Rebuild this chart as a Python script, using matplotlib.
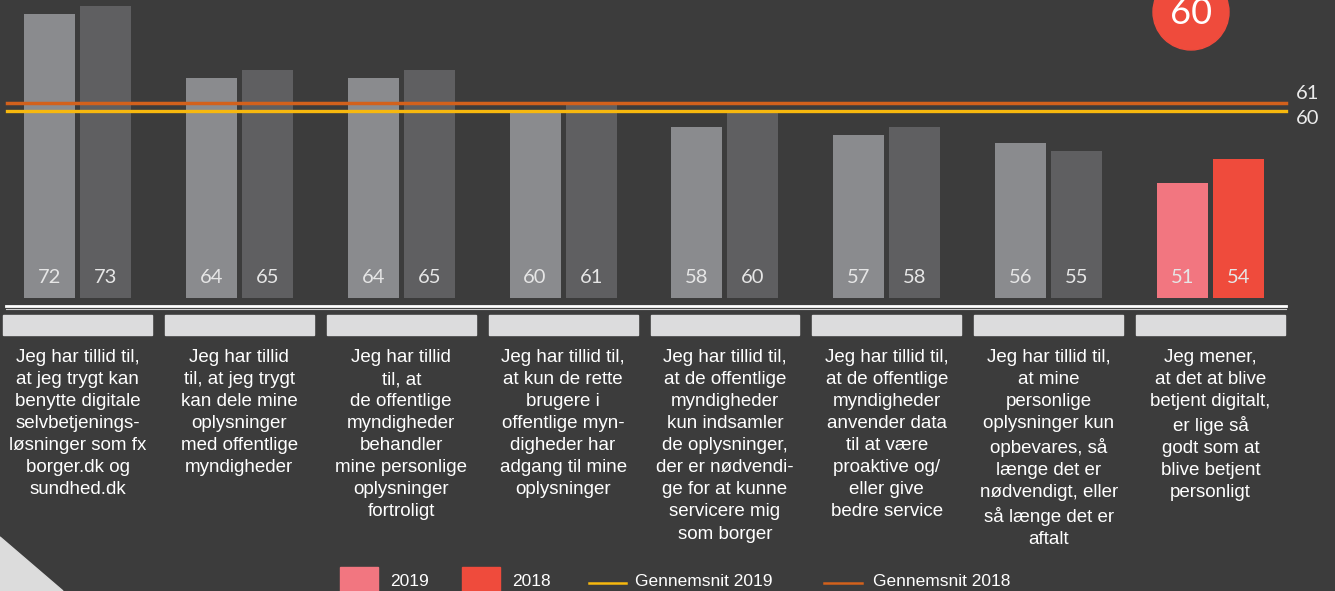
import matplotlib.pyplot as plt
import matplotlib.transforms as mtransforms
from matplotlib.patches import Rectangle, Ellipse, Polygon
from matplotlib.lines import Line2D

udsagn = [
    'Jeg har tillid til,\nat jeg trygt kan\nbenytte digitale\nselvbetjenings-\nløsninger som fx\nborger.dk og\nsundhed.dk',
    'Jeg har tillid\ntil, at jeg trygt\nkan dele mine\noplysninger\nmed offentlige\nmyndigheder',
    'Jeg har tillid\ntil, at\nde offentlige\nmyndigheder\nbehandler\nmine personlige\noplysninger\nfortroligt',
    'Jeg har tillid til,\nat kun de rette\nbrugere i\noffentlige myn-\ndigheder har\nadgang til mine\noplysninger',
    'Jeg har tillid til,\nat de offentlige\nmyndigheder\nkun indsamler\nde oplysninger,\nder er nødvendi-\nge for at kunne\nservicere mig\nsom borger',
    'Jeg har tillid til,\nat de offentlige\nmyndigheder\nanvender data\ntil at være\nproaktive og/\neller give\nbedre service',
    'Jeg har tillid til,\nat mine\npersonlige\noplysninger kun\nopbevares, så\nlænge det er\nnødvendigt, eller\nså længe det er\naftalt',
    'Jeg mener,\nat det at blive\nbetjent digitalt,\ner lige så\ngodt som at\nblive betjent\npersonligt',
]
vaerdi_2019 = [72, 64, 64, 60, 58, 57, 56, 51]
vaerdi_2018 = [73, 65, 65, 61, 60, 58, 55, 54]
snit_2019 = 60
snit_2018 = 61
samlet = 60

bg = '#3c3c3c'
W, H = 1335, 591

fig = plt.figure(figsize=(W / 100, H / 100), dpi=100, facecolor=bg)
ax = fig.add_axes([0, 1 - 298 / H, 1, 298 / H])
ax.set_facecolor('none')
ax.axis('off')
ax.set_ylim(36.8, 73.7)
ax.set_xlim(-0.479, 7.769)

farve_2019 = ['#8a8b8e'] * 7 + ['#f27680']
farve_2018 = ['#5f5f61'] * 7 + ['#ef4b3c']
x = list(range(len(udsagn)))
b1 = ax.bar([i - 0.173 for i in x], vaerdi_2019, width=0.315, color=farve_2019)
b2 = ax.bar([i + 0.173 for i in x], vaerdi_2018, width=0.315, color=farve_2018)

for bars, vals in [(b1, vaerdi_2019), (b2, vaerdi_2018)]:
    for b, v in zip(bars, vals):
        ax.text(b.get_x() + b.get_width() / 2, 39.4, str(v), ha='center', va='center',
                color='#e6e6e6', fontsize=14.5, family='Lato')

ax.axhline(snit_2018, xmin=7 / W, xmax=1286 / W, color='#d2611c', lw=2.5)
ax.axhline(snit_2019, xmin=7 / W, xmax=1286 / W, color='#f7b80e', lw=2.4)
t2 = mtransforms.blended_transform_factory(ax.transAxes, ax.transData)
ax.text(1296 / W, snit_2018 + 1.15, str(snit_2018), transform=t2,
        ha='left', va='center', color='#ececec', fontsize=14.5, family='Lato')
ax.text(1296 / W, snit_2019 - 1.0, str(snit_2019), transform=t2,
        ha='left', va='center', color='#ececec', fontsize=14.5, family='Lato')

# hvide linjer under søjlerne
fig.add_artist(Line2D([6 / W, 1286 / W], [1 - 306 / H] * 2, color='white', lw=2))
fig.add_artist(Line2D([6 / W, 1286 / W], [1 - 309 / H] * 2, color='#cfcfcf', lw=0.8))

trans = mtransforms.blended_transform_factory(ax.transData, fig.transFigure)
for i, tekst in enumerate(udsagn):
    ax.add_patch(Rectangle((i - 0.46, 1 - 335 / H), 0.92, 20 / H, transform=trans,
                           color='#dcdcdd', clip_on=False))
    ax.text(i, 1 - 349 / H, tekst, transform=trans, ha='center', va='top', color='white',
            fontsize=13.5, family='Liberation Sans', linespacing=1.39)

# cirkel med samlet score
fig.add_artist(Ellipse((1191 / W, 1 - 12 / H), 76 / W, 76 / H, color='#ef4b3c'))
fig.text(1191 / W, 1 - 14 / H, str(samlet), ha='center', va='center', color='white',
         fontsize=26, family='Lato')

fig.add_artist(Polygon([[0, 1 - 537 / H], [63 / W, 0], [0, 0]], closed=True, color='#dcdcdc'))

# forklaring
fig.add_artist(Rectangle((340 / W, 0), 38 / W, 24 / H, color='#f27680'))
fig.text(390 / W, 1 - 582 / H, '2019', ha='left', va='center', color='white', fontsize=12.5, family='Liberation Sans')
fig.add_artist(Rectangle((462 / W, 0), 38 / W, 24 / H, color='#ef4b3c'))
fig.text(512 / W, 1 - 581 / H, '2018', ha='left', va='center', color='white', fontsize=12.5, family='Liberation Sans')
fig.add_artist(Line2D([589 / W, 626 / W], [1 - 583 / H] * 2, color='#f7b80e', lw=1.8))
fig.text(635 / W, 1 - 582 / H, 'Gennemsnit 2019', ha='left', va='center', color='white', fontsize=12.5, family='Liberation Sans')
fig.add_artist(Line2D([824 / W, 862 / W], [1 - 583 / H] * 2, color='#d2611c', lw=1.8))
fig.text(873 / W, 1 - 582 / H, 'Gennemsnit 2018', ha='left', va='center', color='white', fontsize=12.5, family='Liberation Sans')

plt.savefig('out.png', dpi=100, facecolor=bg)
